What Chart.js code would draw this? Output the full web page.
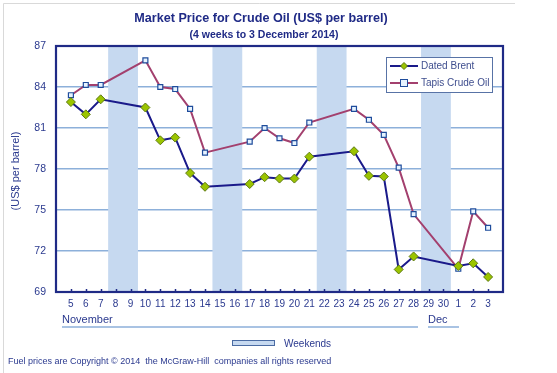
<!DOCTYPE html>
<html>
<head>
<meta charset="utf-8">
<script src="https://cdn.jsdelivr.net/npm/chart.js@4.4.1/dist/chart.umd.min.js"></script>
<style>
  html, body { margin: 0; padding: 0; background: #fff; }
</style>
</head>
<body>
<canvas id="oilChart" width="557" height="373"></canvas>
<script>
// day labels, blank slot at each end (axis runs 4 Nov to 4 Dec)
const days = ["", "5", "6", "7", "8", "9", "10", "11", "12", "13", "14", "15", "16", "17", "18", "19",
  "20", "21", "22", "23", "24", "25", "26", "27", "28", "29", "30", "1", "2", "3", ""];

const brent = [null, 82.9, 82.0, 83.1, null, null, 82.5, 80.1, 80.3, 77.7, 76.7, null, null, 76.9, 77.4,
  77.3, 77.3, 78.9, null, null, 79.3, 77.5, 77.45, 70.65, 71.6, null, null, 70.9, 71.1, 70.1, null];

const tapis = [null, 83.4, 84.15, 84.15, null, null, 85.95, 84.0, 83.85, 82.4, 79.2, null, null, 80.0, 81.0,
  80.25, 79.9, 81.4, null, null, 82.4, 81.6, 80.5, 78.1, 74.7, null, null, 70.7, 74.9, 73.7, null];

const weekendStarts = ["8", "15", "22", "29"];
const yTicks = [69, 72, 75, 78, 81, 84, 87];

const NAVY = "#1F2A86";
const TEXT = "#2B3A8F";
const BRENT_LINE = "#1A1A8A";
const TAPIS_LINE = "#A3406E";
const BAND = "#C6D9F0";
const GRID = "#8DB0DA";
const FONT = "'Liberation Sans', Arial, sans-serif";

const decor = {
  id: "decor",
  beforeDraw(chart) {
    const c = chart.ctx;
    c.save();
    c.fillStyle = "#fff";
    c.fillRect(0, 0, chart.width, chart.height);
    // faint outer frame
    c.strokeStyle = "#D9D9D9";
    c.lineWidth = 1;
    c.beginPath();
    c.moveTo(3.5, chart.height);
    c.lineTo(3.5, 3.5);
    c.lineTo(515, 3.5);
    c.stroke();
    // titles
    c.fillStyle = NAVY;
    c.textAlign = "center";
    c.textBaseline = "middle";
    c.font = "bold 12.6px " + FONT;
    c.fillText("Market Price for Crude Oil (US$ per barrel)", 261, 19);
    c.font = "bold 10.5px " + FONT;
    c.fillText("(4 weeks to 3 December 2014)", 264, 35);
    c.restore();
  },
  beforeDatasetsDraw(chart) {
    const c = chart.ctx;
    const x = chart.scales.x;
    const a = chart.chartArea;
    const step = x.getPixelForValue(1) - x.getPixelForValue(0);
    c.save();
    c.fillStyle = BAND;
    weekendStarts.forEach(d => {
      const i = days.indexOf(d);
      const x0 = x.getPixelForValue(i) - step / 2;
      const x1 = x.getPixelForValue(i + 1) + step / 2;
      c.fillRect(x0, a.top, x1 - x0, a.bottom - a.top);
    });
    // tick marks pointing into plot
    c.strokeStyle = NAVY;
    c.lineWidth = 1.5;
    for (let i = 1; i < days.length - 1; i++) {
      const px = Math.round(x.getPixelForValue(i)) + 0.5;
      c.beginPath();
      c.moveTo(px, a.bottom);
      c.lineTo(px, a.bottom - 3);
      c.stroke();
    }
    // plot frame
    c.strokeStyle = NAVY;
    c.lineWidth = 2.2;
    c.strokeRect(a.left, a.top, a.right - a.left, a.bottom - a.top);
    c.restore();
  },
  afterDraw(chart) {
    const c = chart.ctx;
    c.save();
    // legend box
    c.fillStyle = "#fff";
    c.fillRect(386, 57, 107, 36);
    c.strokeStyle = "#5873A6";
    c.lineWidth = 1;
    c.strokeRect(386.5, 57.5, 106, 35);
    const rows = [
      { label: chart.data.datasets[0].label, y: 66, line: BRENT_LINE, ds: chart.data.datasets[0] },
      { label: chart.data.datasets[1].label, y: 83, line: TAPIS_LINE, ds: chart.data.datasets[1] }
    ];
    rows.forEach(r => {
      c.strokeStyle = r.line;
      c.lineWidth = 2;
      c.beginPath();
      c.moveTo(390, r.y);
      c.lineTo(418, r.y);
      c.stroke();
      c.fillStyle = r.ds.pointBackgroundColor;
      c.strokeStyle = r.ds.pointBorderColor;
      c.lineWidth = 1;
      if (r.ds.pointStyle === "rectRot") {
        c.beginPath();
        c.moveTo(404, r.y - 3.5);
        c.lineTo(407.5, r.y);
        c.lineTo(404, r.y + 3.5);
        c.lineTo(400.5, r.y);
        c.closePath();
        c.fill();
        c.stroke();
      } else {
        c.fillRect(400.5, r.y - 3.5, 7, 7);
        c.strokeRect(400.5, r.y - 3.5, 7, 7);
      }
      c.fillStyle = "#3F4E8E";
      c.font = "10px " + FONT;
      c.textAlign = "left";
      c.textBaseline = "middle";
      c.fillText(r.label, 421, r.y + 0.5);
    });

    // month captions under the axis
    c.fillStyle = TEXT;
    c.font = "11px " + FONT;
    c.textAlign = "left";
    c.textBaseline = "middle";
    c.fillText("November", 62, 320);
    c.fillText("Dec", 428, 320);
    c.strokeStyle = GRID;
    c.lineWidth = 1.5;
    c.beginPath();
    c.moveTo(62, 327); c.lineTo(418, 327);
    c.moveTo(428, 327); c.lineTo(459, 327);
    c.stroke();

    // weekends key
    c.fillStyle = BAND;
    c.fillRect(232, 340.5, 42, 5);
    c.strokeStyle = "#4A6BA3";
    c.lineWidth = 1;
    c.strokeRect(232.5, 340.5, 42, 5);
    c.fillStyle = TEXT;
    c.font = "10px " + FONT;
    c.fillText("Weekends", 284, 344);

    // footer
    c.font = "9px " + FONT;
    c.fillText("Fuel prices are Copyright \u00A9 2014  the McGraw-Hill  companies all rights reserved", 8, 362);

    // y axis title
    c.translate(16, 171);
    c.rotate(-Math.PI / 2);
    c.textAlign = "center";
    c.font = "11px " + FONT;
    c.fillText("(US$ per barrel)", 0, 0);
    c.restore();
  }
};

const config = {
  type: "line",
  data: {
    labels: days,
    datasets: [
      {
        label: "Dated Brent",
        data: brent,
        borderColor: BRENT_LINE,
        borderWidth: 2,
        tension: 0,
        spanGaps: true,
        pointStyle: "rectRot",
        pointRadius: 4.5,
        pointBackgroundColor: "#9BC400",
        pointBorderColor: "#5E7A12",
        pointBorderWidth: 1
      },
      {
        label: "Tapis Crude Oil",
        data: tapis,
        borderColor: TAPIS_LINE,
        borderWidth: 2,
        tension: 0,
        spanGaps: true,
        pointStyle: "rect",
        pointRadius: 3.5,
        pointBackgroundColor: "#E6F3FF",
        pointBorderColor: "#1F4C9C",
        pointBorderWidth: 1.2
      }
    ]
  },
  options: {
    responsive: false,
    animation: false,
    layout: { padding: { left: 0, top: 46, right: 54, bottom: 0 } },
    scales: {
      x: {
        type: "category",
        offset: false,
        grid: { display: false, drawTicks: false, tickLength: 0 },
        border: { display: false },
        ticks: {
          autoSkip: false,
          maxRotation: 0,
          padding: 6,
          color: TEXT,
          font: { family: FONT, size: 10 }
        },
        afterFit: s => { s.height = 81; }
      },
      y: {
        min: 69,
        max: 87,
        afterBuildTicks: s => { s.ticks = yTicks.map(v => ({ value: v })); },
        grid: { color: GRID, lineWidth: 1.5, drawTicks: false },
        border: { display: false },
        ticks: {
          padding: 10,
          color: TEXT,
          font: { family: FONT, size: 10.5 }
        },
        afterFit: s => { s.width = 56; }
      }
    },
    plugins: {
      legend: { display: false },
      tooltip: { enabled: false }
    }
  },
  plugins: [decor]
};

new Chart(document.getElementById("oilChart").getContext("2d"), config);
</script>
</body>
</html>
